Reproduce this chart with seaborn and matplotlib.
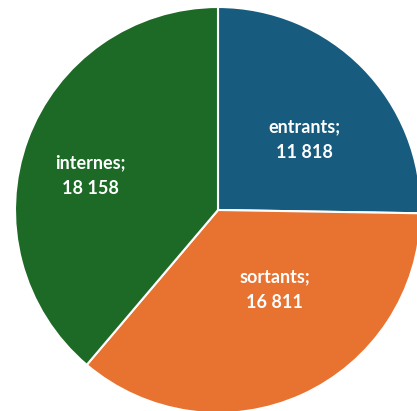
import numpy as np
import seaborn as sns
import matplotlib.pyplot as plt

sns.set_theme(style="white")
plt.rcParams['font.family'] = ['Lato', 'DejaVu Sans']

categories = ["entrants", "sortants", "internes"]
values = [11818, 16811, 18158]

pal = sns.color_palette(["#175c7e", "#e87230", "#1c6a26"])

fig = plt.figure(figsize=(4.17, 4.11), dpi=100)
ax = fig.add_axes([0, 0, 1, 1])

r = 203.0
wedges, _ = ax.pie(values, colors=pal, startangle=90, counterclock=False,
                   radius=1.0, wedgeprops=dict(edgecolor="white", linewidth=1.5))

# label placement (distance from center, angle nudge in degrees)
lab_dist = [0.55, 0.48, 0.65]
lab_shift = [-5.5, 11, 5]
for w, cat, v, d, s in zip(wedges, categories, values, lab_dist, lab_shift):
    ang = np.deg2rad((w.theta1 + w.theta2) / 2 + s)
    txt = cat + ";\n" + f"{v:,}".replace(",", " ")
    ax.text(d * np.cos(ang), d * np.sin(ang), txt, ha="center", va="center",
            color="white", fontsize=13, fontweight="bold", linespacing=1.6)

ax.set_xlim(-218 / r, (417 - 218) / r)
ax.set_ylim(-(411 - 210) / r, 210 / r)
ax.set_aspect("auto")
ax.axis("off")

fig.savefig("out.png", dpi=100)
